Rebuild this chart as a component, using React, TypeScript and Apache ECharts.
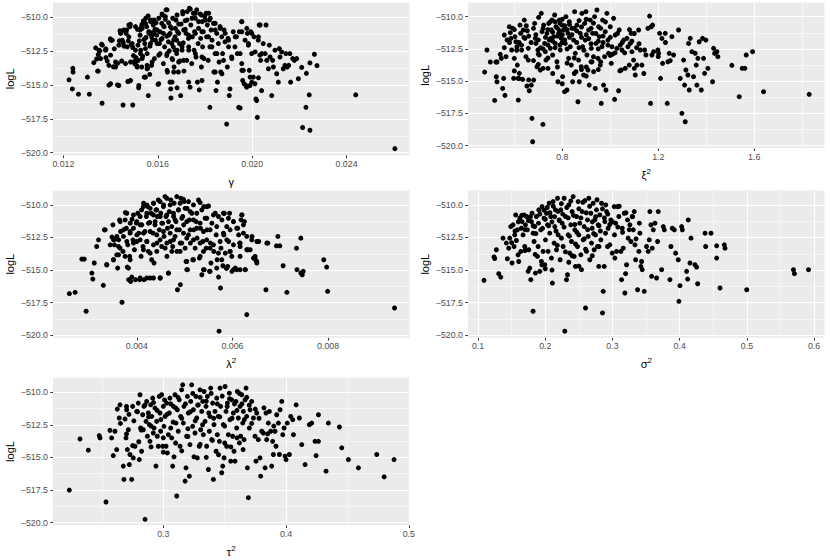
import React, { useEffect, useRef } from "react";
import * as echarts from "echarts";

// ---------- data ----------
const gammaPts: [number, number][] = [
  [0.01224,-514.62],[0.01238,-515.29],[0.0124,-513.77],[0.01241,-514.04],[0.01264,-515.68],
  [0.01302,-514.42],[0.0131,-515.68],[0.01329,-513.35],[0.01337,-512.26],[0.01341,-513.08],[0.01348,-512.75],[0.01345,-513.97],[0.01355,-512.48],[0.01362,-511.99],[0.01364,-516.35],[0.0138,-512.33],[0.0138,-512.98],[0.01386,-513.23],[0.01393,-515.01],[0.01399,-511.59],
  [0.01402,-511.71],[0.01412,-513.65],[0.01416,-512.33],[0.01429,-514.99],[0.0143,-513.4],[0.01437,-511.74],[0.0144,-510.99],[0.01444,-511.12],[0.01447,-513.23],[0.01453,-516.48],[0.01454,-511.89],[0.01457,-512.13],[0.01466,-511.19],[0.01468,-510.94],[0.01473,-514.74],[0.01475,-511.74],[0.0148,-514.71],[0.01482,-510.69],[0.01484,-510.52],[0.01488,-512.01],[0.01494,-516.48],[0.01494,-512.23],[0.01497,-512.83],[0.01501,-513.25],
  [0.01502,-513.42],[0.01508,-512.98],[0.01511,-513.57],[0.01514,-510.89],[0.01516,-512.06],[0.01519,-515.21],[0.01522,-511.74],[0.01525,-511.32],[0.01528,-512.43],[0.01531,-510.69],[0.01533,-510.52],[0.01536,-512.88],[0.01539,-510.27],[0.01542,-511.64],[0.01543,-514.42],[0.01545,-511.94],[0.01549,-510.07],[0.0155,-511.49],[0.01553,-510.69],[0.01555,-512.68],[0.01557,-513.75],[0.0156,-515.78],[0.01566,-514.22],[0.01567,-512.13],[0.0157,-510.32],[0.01574,-511.44],[0.01577,-511.14],[0.01581,-510.57],[0.01584,-510.2],[0.01586,-513.05],[0.01588,-510.89],[0.01593,-510.4],[0.01595,-511.32],[0.01597,-511.94],[0.01525,-510.94],[0.01563,-511.19],[0.01578,-511.69],[0.01532,-513.67],[0.01517,-513.18],[0.01574,-513.55],
  [0.01601,-514.96],[0.01607,-511.94],[0.0161,-512.68],[0.01614,-511.64],[0.01617,-510.45],[0.01619,-509.83],[0.01624,-511.19],[0.01627,-510.69],[0.01629,-512.18],[0.01632,-510.15],[0.01635,-509.45],[0.01638,-511.39],[0.01641,-514.04],[0.01645,-511.81],[0.01646,-510.4],[0.01649,-512.48],[0.01652,-514.79],[0.01655,-515.29],[0.01656,-515.96],[0.01659,-510.82],[0.01663,-513.13],[0.01666,-512.18],[0.01669,-513.67],[0.01673,-511.44],[0.01677,-510.2],[0.0168,-512.68],[0.01684,-511.07],[0.01687,-514.04],[0.01692,-511.94],[0.01694,-513.23],[0.01697,-515.78],[0.01699,-510.5],[0.0161,-511.07],[0.01659,-511.94],[0.01673,-512.43],[0.01638,-512.83],[0.01624,-513.42],[0.0168,-511.69],[0.01652,-511.19],
  [0.01703,-512.43],[0.01706,-509.75],[0.01708,-511.89],[0.01711,-513.97],[0.01716,-510.25],[0.01717,-510.89],[0.0172,-511.19],[0.01723,-513.18],[0.01725,-509.58],[0.0173,-511.56],[0.01731,-512.18],[0.01734,-509.33],[0.01737,-515.16],[0.0174,-510.57],[0.01744,-513.42],[0.01747,-511.44],[0.01751,-509.7],[0.01754,-512.43],[0.01756,-511.07],[0.01759,-510.07],[0.01762,-512.93],[0.01765,-509.45],[0.01768,-514.79],[0.01771,-511.94],[0.01773,-510.82],[0.01776,-515.36],[0.01779,-509.75],[0.01782,-511.56],[0.01785,-513.67],[0.01788,-510.32],[0.0179,-512.18],[0.01793,-511.07],[0.01796,-513.05],[0.01799,-509.95],
  [0.01805,-509.7],[0.01807,-511.44],[0.0181,-510.57],[0.01814,-513.18],[0.01821,-516.65],[0.01819,-510.2],[0.01821,-512.18],[0.01826,-510.94],[0.0183,-511.69],[0.01836,-510.45],[0.01838,-514.04],[0.01843,-512.68],[0.01847,-515.41],[0.0185,-511.19],[0.01853,-514.79],[0.01857,-511.94],[0.0186,-513.3],[0.01864,-510.69],[0.01867,-514.04],[0.01871,-511.44],[0.01875,-512.68],[0.01881,-510.94],[0.01885,-511.81],[0.01892,-517.89],[0.01895,-513.67],[0.01898,-511.56],[0.019,-512.18],
  [0.01903,-515.78],[0.01906,-515.29],[0.01913,-512.93],[0.0192,-511.07],[0.01927,-512.18],[0.01934,-511.44],[0.01937,-512.68],[0.01943,-516.65],[0.01949,-516.7],[0.01946,-511.07],[0.01956,-510.32],[0.01956,-513.42],[0.0196,-514.67],[0.01963,-513.92],[0.01966,-514.91],[0.0197,-511.69],[0.01974,-515.04],[0.01977,-515.16],[0.0198,-511.19],[0.01984,-512.06],[0.01988,-513.92],[0.01991,-515.04],[0.01994,-511.07],[0.01998,-512.68],
  [0.02005,-514.42],[0.02008,-511.44],[0.02012,-514.91],[0.02016,-516.03],[0.02019,-516.15],[0.02022,-517.39],[0.02026,-511.69],[0.0203,-510.57],[0.02033,-512.8],[0.02036,-513.18],[0.0204,-515.41],[0.02047,-511.94],[0.02055,-512.68],[0.02059,-510.57],[0.02062,-513.18],[0.02069,-513.8],[0.02073,-512.06],[0.02076,-512.93],[0.02083,-515.78],[0.02087,-513.18],[0.0209,-513.67],[0.02097,-512.43],
  [0.02104,-514.17],[0.02111,-514.79],[0.02115,-512.31],[0.02118,-512.93],[0.02125,-512.56],[0.02132,-513.8],[0.02139,-513.55],[0.02143,-512.68],[0.02149,-513.67],[0.02155,-513.55],[0.0216,-512.68],[0.02163,-514.79],[0.02172,-513.05],[0.02179,-513.18],[0.02189,-513.05],[0.02196,-514.54],
  [0.0221,-513.7],[0.02214,-518.14],[0.02228,-516.65],[0.0223,-514.14],[0.02242,-515.73],[0.02245,-518.34],[0.02245,-513.37],[0.02264,-512.73],[0.02275,-513.57],[0.02439,-515.73],[0.02605,-519.7],
  [0.016394,-509.45],[0.016183,-509.75],[0.016324,-509.95],[0.015592,-509.9],[0.01569,-510.2],[0.015479,-510.45],[0.015901,-510.4],[0.016042,-510.07],[0.016634,-510.07],[0.016817,-509.83],[0.017056,-509.58],[0.01738,-509.4],[0.017592,-509.7],[0.017845,-509.83],[0.018155,-509.7],[0.018225,-510.07],[0.018437,-510.45],[0.018014,-510.2],[0.017732,-510.32],[0.017451,-510.07],[0.017239,-510.2],[0.016887,-510.5],[0.016746,-510.82],[0.016535,-510.69],[0.016254,-510.65],[0.015972,-510.94],[0.015831,-511.19],[0.01562,-511.07],[0.015338,-510.82],[0.015056,-510.69],[0.014775,-510.57],[0.014563,-510.94],[0.014423,-511.19],[0.014493,-511.69],[0.014775,-511.44],[0.014915,-511.94],[0.014704,-512.18],[0.014352,-512.06],[0.01407,-511.69],[0.013648,-512.06],[0.013507,-512.43],[0.013789,-512.43],[0.014,-512.8],[0.014211,-513.3],[0.01393,-513.55],[0.013577,-513.05],[0.013479,-513.97],
  [0.015056,-512.43],[0.015268,-512.68],[0.015479,-512.31],[0.01569,-511.94],[0.015901,-511.69],[0.016183,-511.56],[0.016465,-511.32],[0.016676,-511.69],[0.016887,-511.19],[0.017099,-510.94],[0.01731,-511.32],[0.017592,-511.19],[0.017873,-511.07],[0.018155,-511.44],[0.018437,-510.94],[0.018648,-510.82],[0.018859,-511.19],[0.019,-511.69],[0.019282,-511.44],[0.019563,-511.07],[0.019775,-510.82],[0.019986,-511.19],[0.020268,-511.44],[0.019563,-510.32],[0.020338,-510.57],
  [0.014845,-513.3],[0.015127,-513.18],[0.015338,-513.05],[0.015549,-513.55],[0.015761,-513.3],[0.016042,-512.8],[0.016394,-512.68],[0.016606,-513.05],[0.016817,-512.43],[0.017028,-512.18],[0.01731,-512.43],[0.017592,-512.68],[0.017873,-512.93],[0.018296,-512.18],[0.018507,-512.68],[0.018789,-513.18],[0.019141,-513.05],[0.019493,-512.68],[0.019845,-511.94],[0.020127,-512.56],[0.020408,-512.68],[0.016887,-513.3],[0.017099,-513.18],[0.016394,-513.92],[0.016676,-514.04],[0.015549,-513.8],[0.015127,-513.67],[0.014634,-513.42],[0.014211,-513.67],
  [0.014,-514.91],[0.014352,-515.04],[0.014845,-514.67],[0.015197,-515.04],[0.015479,-514.42],[0.016042,-514.91],[0.016606,-514.79],[0.016817,-515.21],[0.01731,-514.79],[0.017873,-514.67],[0.018437,-514.04],[0.018718,-514.17],[0.019563,-513.92],[0.019915,-514.42],[0.019986,-514.79],[0.020268,-514.47],
];

const xi2Pts: [number, number][] = [
  [0.4764,-514.29],[0.4861,-512.58],[0.5,-513.51],[0.5181,-516.49],[0.5236,-513.51],[0.5278,-513.51],[0.525,-514.65],[0.5278,-515.04],[0.5417,-512.92],[0.5458,-513.23],[0.5514,-515.56],[0.5556,-514.78],[0.5583,-512.4],[0.5583,-511.42],[0.5611,-516.1],[0.5653,-513.1],
  [0.5792,-510.78],[0.5833,-511.24],[0.5861,-511.68],[0.5889,-512.58],[0.5931,-510.9],[0.5972,-514.78],[0.6,-513.23],[0.6028,-511.55],[0.6069,-511.94],[0.611,-512.33],[0.6125,-513.75],[0.6153,-514.78],[0.6167,-516.46],[0.6208,-514.39],[0.6236,-510.65],[0.6264,-511.29],[0.6306,-512.58],[0.6347,-514.86],[0.6375,-511.03],[0.6417,-510.26],[0.6444,-511.68],[0.6486,-513.1],[0.6528,-515.37],[0.6542,-511.09],[0.6583,-512.45],[0.6583,-513.36],[0.6625,-515.74],[0.6736,-517.88],[0.6764,-519.69],[0.6806,-514.91],[0.6708,-515.3],
  [0.6847,-510.52],[0.6875,-511.68],[0.6903,-512.07],[0.6944,-513.88],[0.6986,-512.58],[0.7014,-510.05],[0.7042,-512.97],[0.7083,-514.13],[0.7125,-509.74],[0.7153,-511.16],[0.7194,-518.35],[0.7222,-510.65],[0.7264,-512.07],[0.7292,-512.71],[0.7319,-513.36],[0.7361,-511.29],[0.7403,-514.0],[0.7431,-510.52],[0.7458,-511.81],[0.75,-512.45],[0.7542,-511.03],[0.7569,-510.26],[0.7597,-512.97],[0.7639,-511.55],[0.7681,-509.87],[0.7708,-512.07],[0.7736,-510.78],[0.7778,-513.49],[0.7819,-515.04],[0.7847,-511.29],[0.7875,-510.26],[0.7917,-512.58],[0.7958,-511.68],[0.7986,-510.65],
  [0.8014,-514.65],[0.8056,-511.03],[0.8097,-515.81],[0.8125,-512.07],[0.8153,-510.0],[0.8194,-515.68],[0.8236,-511.29],[0.8264,-513.23],[0.8292,-510.39],[0.8333,-512.33],[0.8375,-513.75],[0.8403,-510.9],[0.8431,-515.04],[0.8472,-511.81],[0.8514,-509.61],[0.8542,-512.84],[0.8569,-514.26],[0.8611,-510.65],[0.8653,-516.59],[0.8681,-513.36],[0.8708,-515.04],[0.875,-511.29],[0.8792,-513.88],[0.8819,-509.74],[0.8847,-512.33],[0.8889,-514.52],[0.8931,-510.52],[0.8958,-511.81],[0.8986,-509.61],
  [0.9028,-512.97],[0.9069,-514.13],[0.9097,-511.03],[0.9125,-515.3],[0.9167,-510.26],[0.9208,-512.45],[0.9236,-513.49],[0.9264,-511.29],[0.9306,-514.26],[0.9347,-510.0],[0.9375,-515.56],[0.9403,-512.07],[0.9444,-509.48],[0.9486,-513.23],[0.9514,-510.78],[0.9542,-511.55],[0.9583,-513.75],[0.9625,-516.72],[0.9653,-512.33],[0.9681,-510.26],[0.9722,-515.3],[0.9764,-513.1],[0.9792,-511.16],[0.9819,-515.68],[0.9861,-509.74],[0.9903,-511.81],[0.9931,-512.84],
  [1.0,-510.78],[1.0042,-513.62],[1.0069,-512.33],[1.0139,-510.13],[1.0181,-516.41],[1.0208,-511.42],[1.0278,-512.45],[1.0347,-515.74],[1.0375,-511.03],[1.0417,-512.2],[1.0458,-514.13],[1.0486,-512.58],[1.0556,-511.81],[1.0625,-514.0],[1.0694,-511.68],[1.0736,-512.33],[1.0792,-513.75],[1.0833,-512.07],[1.0875,-511.29],[1.0903,-512.71],[1.0972,-513.36],[1.1042,-514.52],[1.1111,-513.75],[1.1181,-511.03],[1.125,-512.58],[1.1319,-513.75],[1.1431,-512.58],[1.1486,-512.97],[1.1569,-510.9],[1.1639,-509.95],[1.1681,-516.72],[1.1708,-510.78],[1.1736,-512.97],[1.1764,-510.65],[1.1806,-512.71],
  [1.1986,-512.58],[1.2014,-512.84],[1.2056,-511.29],[1.2097,-514.78],[1.2153,-511.68],[1.2181,-513.62],[1.2292,-511.29],[1.2375,-516.72],[1.2403,-513.49],[1.2458,-512.84],[1.2569,-511.55],[1.2639,-512.97],[1.2847,-511.03],[1.2917,-514.78],[1.2986,-517.49],[1.3056,-513.36],[1.3097,-515.3],[1.3125,-518.14],[1.3153,-514.13],[1.3236,-514.52],[1.3264,-512.07],[1.3292,-515.68],[1.3333,-511.68],[1.3403,-512.71],[1.3472,-514.65],[1.3542,-512.84],[1.3583,-513.75],[1.3611,-515.3],[1.3653,-513.23],[1.3708,-511.94],[1.3792,-515.68],[1.3847,-511.68],[1.3889,-513.23],[1.3931,-514.39],[1.3986,-511.81],[1.4069,-514.0],
  [1.4264,-515.04],[1.4306,-512.45],[1.4347,-512.84],[1.4444,-512.71],[1.4486,-513.1],[1.5069,-513.77],[1.5375,-516.2],[1.55,-514.0],[1.5611,-514.0],[1.5667,-512.97],[1.5931,-512.71],[1.6389,-515.81],[1.8292,-516.02],
  [0.78,-510.9],[0.79,-511.1],[0.8,-511.4],[0.81,-510.7],[0.82,-511.0],[0.76,-511.2],[0.77,-510.4],[0.83,-511.6],[0.79,-510.5],[0.8,-512.0],[0.74,-511.0],[0.75,-511.7],[0.86,-511.1],[0.88,-510.8],[0.9,-511.4],[0.92,-510.9],[0.87,-512.4],[0.95,-511.9],[0.97,-512.0],[0.93,-513.1],[0.7,-512.9],[0.72,-512.5],[0.66,-511.5],[0.62,-512.0],[0.68,-513.4],[0.9,-513.9],[0.96,-513.5],[1.02,-512.8],[1.08,-511.0],[1.11,-512.4],
  [0.72,-510.9],[0.73,-511.6],[0.74,-512.2],[0.75,-510.4],[0.76,-511.9],[0.77,-512.4],[0.78,-511.5],[0.79,-512.2],[0.8,-510.2],[0.81,-511.8],[0.82,-512.5],[0.83,-510.6],[0.84,-511.4],[0.85,-510.9],[0.86,-512.0],[0.87,-510.3],[0.88,-511.6],[0.89,-512.6],[0.9,-510.2],[0.91,-511.7],[0.92,-512.1],[0.93,-510.5],[0.94,-511.3],[0.95,-512.5],[0.96,-510.9],[0.97,-511.5],[0.98,-510.4],[0.99,-512.2],[1.0,-511.6],[1.01,-512.9],[1.03,-511.3],[1.05,-512.0],[1.06,-512.8],[1.09,-511.9],[1.1,-511.3],[1.12,-512.1],
  [0.6,-511.0],[0.61,-512.6],[0.63,-512.2],[0.64,-511.6],[0.65,-510.7],[0.67,-512.0],[0.69,-511.4],[0.7,-511.8],[0.71,-512.4],[0.68,-510.9],[0.58,-512.0],[0.57,-511.8],[0.6,-514.2],[0.62,-514.8],[0.7,-513.7],[0.72,-514.0],[0.74,-513.2],[0.78,-513.9],[0.82,-513.6],[0.85,-514.4],[0.88,-514.1],[0.9,-514.6],[0.92,-513.5],[0.95,-514.1],[0.85,-513.2],[0.76,-514.4],[1.0,-513.0],[1.04,-514.2],[1.1,-514.0],[1.14,-514.4],[1.2,-513.1],[1.23,-512.0],[1.25,-513.4],[0.66,-514.9],[0.8,-515.2],
];

const lambda2Pts: [number, number][] = [
  [0.00259,-516.81],[0.00271,-516.71],[0.00285,-514.16],[0.0029,-514.16],[0.00294,-518.16],[0.00306,-515.23],[0.00308,-515.69],[0.00311,-514.46],[0.00316,-513.19],[0.0032,-512.68],[0.0033,-516.17],[0.00332,-511.91],[0.00337,-514.59],
  [0.00348,-512.47],[0.0035,-511.53],[0.00351,-514.21],[0.00353,-513.06],[0.00355,-512.63],[0.00358,-513.83],[0.0036,-514.85],[0.00362,-512.68],[0.00364,-511.15],[0.00365,-513.32],[0.00366,-512.04],[0.00369,-517.47],[0.00371,-513.57],[0.00372,-512.42],[0.00376,-510.59],[0.00378,-511.79],[0.0038,-514.77],[0.00381,-513.06],[0.00383,-515.74],[0.00385,-513.95],[0.00386,-512.17],[0.00387,-515.87],[0.0039,-511.1],[0.00392,-512.68],[0.00393,-511.79],[0.00395,-513.44],[0.00397,-515.74],[0.00399,-511.4],
  [0.004,-512.81],[0.00402,-510.64],[0.00404,-512.17],[0.00406,-515.74],[0.00407,-511.53],[0.00409,-513.95],[0.0041,-510.38],[0.00413,-513.19],[0.00414,-509.87],[0.00415,-515.74],[0.00417,-512.04],[0.0042,-510.89],[0.00421,-512.81],[0.00423,-510.13],[0.00424,-513.57],[0.00427,-511.35],[0.00428,-515.61],[0.0043,-510.64],[0.00431,-514.21],[0.00434,-512.17],[0.00435,-509.87],[0.00436,-514.46],[0.00438,-511.53],[0.0044,-510.38],[0.00442,-512.93],[0.00443,-510.89],[0.00445,-509.62],[0.00447,-511.91],[0.00449,-515.61],
  [0.0045,-510.64],[0.00452,-513.19],[0.00454,-511.4],[0.00456,-510.0],[0.00457,-512.42],[0.00459,-509.36],[0.00461,-510.89],[0.00463,-513.95],[0.00464,-511.79],[0.00466,-515.23],[0.00468,-510.51],[0.0047,-512.81],[0.00471,-509.62],[0.00473,-511.66],[0.00475,-513.19],[0.00477,-510.89],[0.00478,-509.87],[0.0048,-512.42],[0.00482,-511.28],[0.00484,-513.57],[0.00485,-516.51],[0.00487,-510.38],[0.00489,-511.91],[0.00491,-516.12],[0.00492,-509.49],[0.00494,-512.93],[0.00496,-510.89],[0.00498,-511.53],[0.00499,-509.74],
  [0.00501,-513.32],[0.00503,-514.34],[0.00505,-510.26],[0.00506,-514.97],[0.00508,-512.3],[0.0051,-511.15],[0.00512,-512.93],[0.00515,-510.64],[0.00517,-514.21],[0.00519,-511.91],[0.00522,-513.32],[0.00524,-511.28],[0.00526,-512.55],[0.00529,-509.62],[0.00531,-514.08],[0.00533,-511.79],[0.00536,-515.36],[0.00538,-512.81],[0.0054,-510.13],[0.00541,-514.97],[0.00543,-511.02],[0.00545,-513.32],[0.00547,-511.91],[0.0055,-510.08],[0.00552,-515.1],[0.00554,-512.93],[0.00555,-514.46],[0.00557,-511.4],
  [0.00561,-513.57],[0.00564,-510.64],[0.00566,-512.3],[0.00568,-514.21],[0.00571,-515.54],[0.00572,-519.69],[0.00575,-516.38],[0.00576,-513.32],[0.00578,-511.15],[0.0058,-514.67],[0.00582,-512.3],[0.00583,-510.64],[0.00585,-513.7],[0.00587,-514.85],[0.00588,-511.66],[0.0059,-514.72],[0.00592,-512.81],[0.00594,-510.64],[0.00595,-513.57],[0.00599,-515.1],
  [0.00602,-511.28],[0.00606,-514.85],[0.00609,-514.97],[0.00611,-511.79],[0.00613,-512.3],[0.00615,-512.93],[0.00616,-513.19],[0.00618,-511.15],[0.0062,-510.77],[0.00623,-512.17],[0.00625,-511.28],[0.00627,-514.97],[0.0063,-518.42],[0.00632,-513.44],[0.00637,-513.44],[0.00641,-512.42],[0.00644,-514.08],[0.00648,-514.21],[0.00651,-514.46],[0.00655,-512.81],
  [0.0067,-516.51],[0.00674,-512.93],[0.00692,-513.14],[0.00695,-512.42],[0.00699,-513.14],[0.00706,-514.67],[0.00714,-516.71],[0.00734,-513.32],[0.00735,-514.97],[0.00743,-515.23],[0.00746,-515.36],[0.00743,-512.55],[0.00748,-515.1],[0.00791,-514.21],[0.00797,-514.77],[0.00799,-516.63],[0.00939,-517.91],
  [0.004836,-509.36],[0.004976,-509.57],[0.004627,-509.49],[0.004488,-509.74],[0.004348,-509.87],[0.004209,-510.0],[0.004139,-510.13],[0.004279,-510.26],[0.004418,-510.38],[0.004557,-510.13],[0.004697,-510.0],[0.004906,-509.87],[0.00508,-509.74],[0.005185,-510.0],[0.005324,-509.82],[0.005463,-510.13],[0.005359,-510.38],[0.005254,-510.64],[0.005115,-510.51],[0.00501,-510.26],[0.004871,-510.38],[0.004767,-510.64],[0.004627,-510.77],[0.004488,-510.89],[0.004348,-510.77],[0.004209,-510.64],[0.00407,-510.89],[0.00393,-510.77],[0.003791,-510.64],[0.003756,-511.15],
  [0.003652,-511.28],[0.003861,-511.4],[0.004,-511.28],[0.004105,-511.53],[0.004244,-511.4],[0.004383,-511.28],[0.004523,-511.4],[0.004662,-511.28],[0.004801,-511.15],[0.004941,-511.02],[0.005045,-511.28],[0.005185,-511.15],[0.005324,-511.4],[0.005463,-511.02],[0.005603,-510.77],[0.005707,-510.89],[0.005812,-510.64],[0.005916,-511.02],[0.006021,-511.28],[0.006195,-510.77],[0.00623,-511.53],[0.00609,-511.79],[0.005951,-511.91],[0.005812,-512.17],[0.005672,-511.66],[0.005533,-511.91],[0.005394,-512.04],[0.005254,-511.79],[0.005115,-511.91],[0.004976,-512.17],[0.004836,-511.91],[0.004697,-512.17],[0.004557,-512.04],[0.004418,-512.3],[0.004279,-512.04],[0.004139,-512.17],[0.004,-512.3],[0.003861,-512.04],[0.003721,-511.91],[0.003582,-512.42],[0.003512,-512.68],[0.003338,-511.91],
  [0.003443,-513.06],[0.003617,-513.19],[0.003791,-512.81],[0.00393,-512.93],[0.00407,-512.68],[0.004209,-512.81],[0.004348,-513.06],[0.004488,-512.68],[0.004627,-512.93],[0.004767,-512.68],[0.004906,-512.93],[0.005045,-512.55],[0.005185,-512.68],[0.005324,-512.93],[0.005463,-512.68],[0.005603,-513.06],[0.005742,-512.81],[0.005882,-512.68],[0.006021,-513.06],[0.00616,-512.93],[0.0063,-512.42],[0.006404,-512.68],[0.006509,-512.81],[0.006718,-512.93],
  [0.003373,-514.59],[0.003512,-514.21],[0.003617,-513.83],[0.003756,-513.95],[0.003861,-514.21],[0.003826,-514.85],[0.004139,-513.44],[0.004279,-513.7],[0.004418,-513.57],[0.004592,-513.32],[0.004732,-513.57],[0.004906,-513.57],[0.005045,-514.34],[0.005185,-514.21],[0.005324,-513.95],[0.005394,-513.57],[0.005533,-513.32],[0.005707,-513.7],[0.005777,-514.21],[0.005951,-513.57],[0.005986,-513.95],[0.00616,-513.95],[0.0063,-513.44],[0.006474,-513.95],[0.006509,-514.34],
  [0.005045,-514.97],[0.005394,-514.97],[0.005533,-515.1],[0.005672,-514.85],[0.005882,-514.85],[0.006021,-514.97],[0.00616,-514.97],[0.006265,-514.97],[0.004662,-515.23],[0.003895,-515.54],[0.00407,-515.61],[0.004209,-515.61],[0.004348,-515.61],[0.004488,-515.61],
];

const sigma2Pts: [number, number][] = [
  [0.1089,-515.79],[0.1238,-514.0],[0.1248,-514.11],[0.1273,-513.44],[0.1308,-515.28],[0.1338,-515.54],[0.1372,-512.55],[0.1422,-512.93],[0.1437,-514.13],[0.1457,-513.32],[0.1472,-512.55],[0.1487,-511.66],[0.1506,-514.46],[0.1521,-511.53],[0.1536,-513.19],[0.1546,-512.3],[0.1561,-510.77],[0.1571,-512.73],[0.1586,-511.91],[0.1596,-513.83],[0.1606,-514.34],[0.1621,-511.02],[0.1636,-513.57],[0.1645,-511.79],[0.1655,-511.28],[0.167,-512.3],[0.1685,-510.77],[0.1695,-513.19],[0.1705,-511.53],[0.172,-510.89],[0.1735,-511.91],[0.1745,-515.1],[0.1755,-513.44],[0.177,-514.85],[0.1785,-515.74],[0.1794,-511.28],[0.1804,-510.64],[0.1819,-518.16],[0.1819,-512.17],[0.1834,-512.81],[0.1844,-511.66],[0.1854,-515.23],[0.1869,-510.89],[0.1884,-513.95],[0.1894,-513.19],[0.1904,-510.38],[0.1919,-515.1],[0.1933,-511.91],[0.1943,-514.34],[0.1953,-510.13],[0.1968,-513.57],[0.1983,-511.02],[0.1993,-514.59],
  [0.2003,-512.68],[0.2018,-510.64],[0.2033,-511.53],[0.2043,-513.57],[0.2058,-509.87],[0.2067,-512.17],[0.2082,-510.89],[0.2092,-514.08],[0.2107,-516.0],[0.2117,-509.74],[0.2132,-512.93],[0.2142,-511.66],[0.2152,-510.38],[0.2167,-513.44],[0.2182,-509.49],[0.2192,-512.3],[0.2207,-511.15],[0.2221,-514.21],[0.2231,-510.38],[0.2241,-512.55],[0.2251,-511.4],[0.2266,-513.19],[0.2281,-509.49],[0.2291,-519.69],[0.2301,-510.89],[0.2316,-515.74],[0.2331,-515.36],[0.2341,-512.3],[0.2351,-510.0],[0.2365,-513.7],[0.238,-511.53],[0.239,-512.81],[0.24,-510.51],[0.2415,-509.36],[0.243,-513.95],[0.244,-511.91],[0.245,-514.72],[0.2465,-510.89],[0.248,-513.19],[0.249,-509.74],[0.2499,-512.3],
  [0.2514,-511.4],[0.2529,-513.83],[0.2539,-514.97],[0.2549,-510.51],[0.2564,-512.68],[0.2579,-511.66],[0.2589,-509.67],[0.2599,-517.91],[0.2614,-513.57],[0.2629,-511.15],[0.2639,-512.42],[0.2648,-509.49],[0.2663,-514.21],[0.2678,-510.64],[0.2688,-512.93],[0.2698,-511.79],[0.2713,-509.87],[0.2728,-513.44],[0.2738,-511.15],[0.2748,-512.3],[0.2763,-510.38],[0.2778,-513.19],[0.2787,-511.53],[0.2797,-514.72],[0.2812,-510.77],[0.2827,-512.68],[0.2837,-509.87],[0.2852,-518.29],[0.2862,-516.63],[0.2877,-514.72],[0.2887,-511.28],[0.2897,-512.17],[0.2912,-510.51],[0.2927,-513.19],[0.2936,-511.79],[0.2961,-513.06],[0.2976,-511.15],[0.2996,-513.7],
  [0.3026,-510.13],[0.3036,-514.08],[0.3046,-511.4],[0.3061,-513.57],[0.3075,-510.13],[0.3095,-510.89],[0.3125,-513.57],[0.3135,-515.74],[0.3145,-511.79],[0.316,-513.32],[0.3175,-510.64],[0.3185,-516.76],[0.3195,-515.28],[0.321,-514.59],[0.3224,-511.15],[0.3234,-512.55],[0.3259,-511.53],[0.3274,-512.81],[0.3294,-510.89],[0.3309,-511.91],[0.3324,-510.51],[0.3334,-513.06],[0.3344,-514.21],[0.3373,-516.51],[0.3393,-513.57],[0.3408,-512.17],[0.3423,-514.72],[0.3433,-514.34],[0.3443,-514.97],[0.3473,-516.63],
  [0.3507,-513.19],[0.3532,-513.57],[0.3547,-512.68],[0.3557,-510.51],[0.3572,-511.53],[0.3582,-515.48],[0.3592,-513.32],[0.3607,-511.91],[0.3632,-511.4],[0.3656,-515.61],[0.3671,-512.81],[0.3681,-510.51],[0.3731,-514.97],[0.3756,-511.66],[0.3771,-511.91],[0.3855,-515.74],[0.387,-513.19],[0.389,-511.79],[0.392,-511.91],[0.3939,-513.7],[0.3979,-514.21],[0.3989,-517.4],
  [0.4004,-516.2],[0.4029,-511.66],[0.4039,-511.91],[0.4103,-515.1],[0.4118,-515.69],[0.4128,-511.15],[0.4153,-514.46],[0.4168,-512.55],[0.4227,-514.59],[0.4252,-514.77],[0.4267,-516.05],[0.4377,-512.17],[0.4386,-513.19],[0.4466,-512.17],[0.455,-513.14],[0.455,-514.08],[0.46,-516.38],[0.4664,-513.06],[0.4674,-513.32],[0.4997,-516.51],[0.5692,-514.97],[0.5707,-515.28],[0.5916,-514.97],
  [0.16,-511.3],[0.165,-510.8],[0.17,-511.9],[0.175,-511.2],[0.178,-510.9],[0.182,-511.6],[0.186,-512.2],[0.19,-511.4],[0.192,-510.7],[0.196,-511.8],[0.198,-510.4],[0.2,-511.1],[0.203,-510.2],[0.205,-511.6],[0.207,-510.6],[0.21,-511.3],[0.212,-510.1],[0.214,-510.9],[0.216,-512.0],[0.219,-510.5],[0.221,-511.2],[0.224,-509.9],[0.226,-510.7],[0.228,-511.7],[0.232,-510.2],[0.234,-511.0],[0.236,-512.4],[0.238,-509.7],[0.242,-510.8],[0.244,-511.5],[0.247,-512.1],[0.25,-510.3],[0.253,-511.0],[0.256,-509.8],[0.258,-512.6],[0.261,-510.6],[0.263,-511.9],[0.266,-510.1],[0.27,-511.3],[0.272,-512.2],[0.275,-510.9],[0.277,-509.6],[0.28,-511.6],[0.282,-512.0],[0.285,-510.3],[0.288,-511.0],[0.29,-510.0],[0.293,-510.7],[0.296,-511.5],[0.3,-511.3],[0.303,-512.3],[0.308,-511.7],[0.31,-510.1],[0.315,-512.1],[0.32,-510.6],[0.325,-511.9],[0.33,-510.9],[0.335,-512.6],[0.34,-511.4],
  [0.218,-513.1],[0.23,-513.6],[0.245,-513.0],[0.26,-513.4],[0.185,-513.8],[0.195,-514.6],[0.2,-514.9],[0.17,-513.5],[0.155,-512.0],[0.15,-512.9],[0.27,-513.9],[0.28,-513.2],[0.235,-514.4],[0.21,-515.0],[0.25,-514.7],[0.24,-513.9],
];

const tau2Pts: [number, number][] = [
  [0.2234,-517.51],[0.2321,-513.59],[0.2389,-514.45],[0.2478,-513.33],[0.2484,-513.51],[0.2533,-518.42],[0.2565,-512.93],[0.2579,-513.51],[0.2592,-514.86],[0.2606,-513.0],[0.262,-514.4],[0.2625,-511.3],[0.2641,-511.98],[0.2647,-510.97],[0.2674,-515.67],[0.2679,-516.69],[0.2688,-512.06],[0.2696,-513.51],[0.2701,-511.35],[0.2707,-514.4],[0.2715,-512.88],[0.2723,-515.55],[0.2728,-514.78],[0.2742,-516.69],[0.275,-511.09],[0.2755,-515.04],[0.2769,-514.15],[0.2783,-511.48],[0.2796,-510.84],[0.2804,-515.17],[0.281,-510.2],[0.2815,-512.75],[0.2823,-514.53],[0.2832,-511.73],[0.2837,-512.88],[0.2842,-511.09],[0.2851,-519.75],[0.2859,-512.24],[0.2864,-510.71],[0.287,-513.38],[0.2878,-511.6],[0.2886,-512.49],[0.2891,-513.77],[0.2897,-510.97],[0.2905,-511.86],[0.2913,-510.46],[0.2918,-513.13],[0.2924,-512.75],[0.2932,-511.22],[0.294,-515.67],[0.2946,-512.24],[0.2951,-513.38],[0.2959,-514.15],[0.2967,-510.33],[0.2973,-511.6],[0.2978,-513.0],[0.2986,-510.2],[0.2995,-514.15],
  [0.3,-511.09],[0.3005,-512.62],[0.3014,-511.86],[0.3022,-514.15],[0.3027,-510.84],[0.3033,-514.66],[0.3041,-513.26],[0.3049,-511.6],[0.3054,-510.46],[0.306,-512.75],[0.3068,-513.51],[0.3076,-515.67],[0.3082,-511.09],[0.3087,-514.96],[0.3095,-510.2],[0.3103,-512.37],[0.3109,-517.96],[0.3114,-511.35],[0.3122,-513.0],[0.313,-510.59],[0.3136,-514.15],[0.3141,-511.86],[0.3149,-509.82],[0.3158,-509.44],[0.3163,-512.37],[0.3168,-511.09],[0.3177,-516.82],[0.3185,-515.8],[0.319,-513.38],[0.3196,-510.33],[0.3204,-511.6],[0.3212,-516.44],[0.3217,-514.02],[0.3223,-510.71],[0.3231,-509.44],[0.3239,-512.62],[0.3245,-511.35],[0.325,-514.96],[0.3258,-513.13],[0.3266,-510.33],[0.3272,-511.98],[0.3277,-515.04],[0.3285,-510.97],[0.3293,-514.15],[0.3299,-509.82],
  [0.3304,-512.88],[0.3313,-511.48],[0.3321,-510.71],[0.3326,-513.26],[0.3332,-509.95],[0.334,-512.24],[0.3348,-511.09],[0.3353,-514.15],[0.3359,-510.33],[0.3367,-515.93],[0.3375,-513.0],[0.338,-511.86],[0.3386,-509.69],[0.3394,-513.64],[0.3402,-510.84],[0.3408,-516.69],[0.3413,-512.49],[0.3421,-511.48],[0.343,-514.53],[0.3435,-510.46],[0.344,-513.26],[0.3448,-511.86],[0.3457,-513.77],[0.3462,-509.69],[0.3467,-511.09],[0.3476,-516.18],[0.3484,-515.67],[0.3489,-512.49],[0.3495,-515.04],
  [0.3503,-509.57],[0.3511,-511.48],[0.3516,-514.15],[0.3522,-510.84],[0.353,-513.26],[0.3538,-510.08],[0.3543,-512.11],[0.3549,-515.29],[0.3557,-510.59],[0.3565,-513.38],[0.3571,-511.6],[0.3576,-514.53],[0.3584,-515.29],[0.3592,-510.71],[0.3598,-512.75],[0.3603,-509.95],[0.3611,-511.98],[0.362,-513.89],[0.3625,-511.09],[0.363,-513.38],[0.3639,-510.2],[0.3647,-512.37],[0.3652,-511.48],[0.3658,-513.64],[0.3666,-510.59],[0.3674,-509.69],[0.3679,-511.86],[0.3685,-515.8],[0.3693,-518.09],[0.3701,-512.75],[0.3707,-511.35],[0.372,-510.71],[0.3734,-511.98],[0.3747,-513.38],[0.3755,-515.29],[0.3761,-511.6],[0.3774,-513.64],[0.3788,-515.04],[0.3793,-516.44],
  [0.3802,-513.0],[0.3815,-513.13],[0.3829,-515.8],[0.3837,-511.6],[0.3842,-513.64],[0.3856,-512.37],[0.3864,-511.48],[0.3875,-513.0],[0.3883,-515.67],[0.3891,-513.77],[0.3897,-514.78],[0.391,-513.0],[0.3918,-514.15],[0.3924,-511.73],[0.3938,-512.37],[0.3946,-514.78],[0.3951,-511.35],[0.3965,-510.71],[0.3973,-513.26],[0.3984,-512.75],[0.3992,-514.91],
  [0.4,-515.17],[0.401,-512.37],[0.4027,-514.78],[0.4038,-511.86],[0.4054,-512.11],[0.406,-513.26],[0.4082,-510.97],[0.4109,-511.98],[0.4128,-514.02],[0.4155,-515.55],[0.419,-512.49],[0.4209,-512.37],[0.4236,-513.77],[0.4245,-514.86],[0.4264,-513.77],[0.4264,-511.73],[0.4326,-516.06],[0.4345,-512.37],[0.4435,-512.67],[0.4454,-514.27],[0.4508,-515.17],[0.459,-515.8],[0.4739,-514.78],[0.4799,-516.49],[0.488,-515.17],
  [0.27,-511.1],[0.272,-511.7],[0.276,-512.2],[0.279,-511.5],[0.282,-512.9],[0.285,-511.0],[0.288,-511.9],[0.29,-512.6],[0.292,-510.8],[0.295,-511.4],[0.298,-512.1],[0.301,-510.6],[0.303,-511.7],[0.306,-510.9],[0.308,-512.3],[0.31,-511.2],[0.312,-510.4],[0.315,-512.0],[0.318,-510.9],[0.32,-512.8],[0.322,-511.5],[0.324,-510.1],[0.326,-512.2],[0.328,-511.0],[0.33,-510.4],[0.332,-512.5],[0.335,-510.7],[0.337,-511.6],[0.339,-510.1],[0.341,-512.0],[0.344,-510.9],[0.346,-511.9],[0.348,-510.3],[0.35,-512.6],[0.352,-511.1],[0.354,-510.5],[0.356,-512.0],[0.358,-510.9],[0.36,-511.4],[0.362,-510.1],[0.364,-510.9],[0.366,-512.1],[0.368,-510.4],[0.37,-511.0],[0.372,-512.4],[0.375,-511.3],[0.378,-512.0],[0.382,-511.2],[0.385,-513.2],[0.39,-512.6],
  [0.3,-513.5],[0.31,-513.9],[0.32,-513.4],[0.33,-514.0],[0.34,-513.7],[0.35,-513.9],[0.36,-513.5],[0.29,-514.2],[0.28,-513.8],[0.3,-514.6],[0.345,-514.8],[0.365,-514.4],[0.27,-513.2],[0.265,-512.4],[0.275,-514.1],[0.315,-514.5],[0.335,-515.0],[0.355,-514.2],
];

// ---------- axes ----------
const logLRange = [-520.2, -508.9];
const logLMajor = [-520, -517.5, -515, -512.5, -510];
const logLMinor = [-518.75, -516.25, -513.75, -511.25];

const gammaRange = [0.01156, 0.02667];
const gammaMajor = [0.012, 0.016, 0.02, 0.024];
const gammaMinor = [0.014, 0.018, 0.022, 0.026];

const xi2Range = [0.407, 1.893];
const xi2Major = [0.8, 1.2, 1.6];
const xi2Minor = [0.6, 1.0, 1.4, 1.8];

const lambda2Range = [0.002247, 0.009703];
const lambda2Major = [0.004, 0.006, 0.008];
const lambda2Minor = [0.003, 0.005, 0.007, 0.009];

const sigma2Range = [0.0851, 0.6154];
const sigma2Major = [0.1, 0.2, 0.3, 0.4, 0.5, 0.6];
const sigma2Minor = [0.15, 0.25, 0.35, 0.45, 0.55];

const tau2Range = [0.2101, 0.5006];
const tau2Major = [0.3, 0.4, 0.5];
const tau2Minor = [0.25, 0.35, 0.45];

// x titles: base symbol + superscript
const xTitleBase = ["\u03b3", "\u03be", "\u03bb", "\u03c3", "\u03c4"];
const xTitleSup = ["", "2", "2", "2", "2"];
const yTitle = "logL";

const FONT = "'Liberation Sans', Arial, Helvetica, sans-serif";

type Panel = {
  pts: [number, number][];
  range: number[];
  major: number[];
  minor: number[];
  decimals: number;
  base: string;
  sup: string;
  box: { left: number; top: number; width: number; height: number };
};

const panels: Panel[] = [
  { pts: gammaPts, range: gammaRange, major: gammaMajor, minor: gammaMinor, decimals: 3, base: xTitleBase[0], sup: xTitleSup[0], box: { left: 53, top: 2.4, width: 356.5, height: 153 } },
  { pts: xi2Pts, range: xi2Range, major: xi2Major, minor: xi2Minor, decimals: 1, base: xTitleBase[1], sup: xTitleSup[1], box: { left: 468, top: 2.5, width: 356.5, height: 145.8 } },
  { pts: lambda2Pts, range: lambda2Range, major: lambda2Major, minor: lambda2Minor, decimals: 3, base: xTitleBase[2], sup: xTitleSup[2], box: { left: 53, top: 190.6, width: 356.5, height: 147.2 } },
  { pts: sigma2Pts, range: sigma2Range, major: sigma2Major, minor: sigma2Minor, decimals: 1, base: xTitleBase[3], sup: xTitleSup[3], box: { left: 468, top: 190.6, width: 356.5, height: 147.2 } },
  { pts: tau2Pts, range: tau2Range, major: tau2Major, minor: tau2Minor, decimals: 1, base: xTitleBase[4], sup: xTitleSup[4], box: { left: 53, top: 377.8, width: 356.5, height: 147.4 } },
];

const fmtY = (v: number) => (v < 0 ? "\u2212" : "") + Math.abs(v).toFixed(1);

export default function App() {
  const ref = useRef<HTMLDivElement>(null);
  useEffect(() => {
    if (!ref.current) return;
    const chart = echarts.init(ref.current, undefined, { renderer: "svg" });
    const grid = panels.map((p) => ({
      left: p.box.left, top: p.box.top, width: p.box.width, height: p.box.height,
      show: true, backgroundColor: "#EBEBEB", borderWidth: 0, containLabel: false,
    }));
    const tickStyle = { color: "#333333", width: 1 };
    const xAxis = panels.map((p, i) => ({
      type: "value", gridIndex: i, min: p.range[0], max: p.range[1],
      axisLine: { show: false }, splitLine: { show: false },
      axisTick: { show: true, customValues: p.major, length: 2.75, lineStyle: tickStyle },
      axisLabel: {
        customValues: p.major, color: "#4D4D4D", fontSize: 8.8, fontFamily: FONT, margin: 4,
        formatter: (v: number) => v.toFixed(p.decimals),
      },
      name: p.sup ? `{m|${p.base}}{s|${p.sup}}` : `{m|${p.base}}`,
      nameLocation: "middle", nameGap: 19,
      nameTextStyle: {
        color: "#000", fontSize: 11, fontFamily: FONT, lineHeight: 13,
        rich: {
          m: { fontSize: 11, fontFamily: FONT, color: "#000", lineHeight: 13, verticalAlign: "bottom" },
          s: { fontSize: 8, fontFamily: FONT, color: "#000", lineHeight: 4, verticalAlign: "top" },
        },
      },
    }));
    const yAxis = panels.map((p, i) => ({
      type: "value", gridIndex: i, min: logLRange[0], max: logLRange[1],
      axisLine: { show: false }, splitLine: { show: false },
      axisTick: { show: true, customValues: logLMajor, length: 2.75, lineStyle: tickStyle },
      axisLabel: {
        customValues: logLMajor, color: "#4D4D4D", fontSize: 8.8, fontFamily: FONT, margin: 5,
        formatter: fmtY,
      },
      name: yTitle, nameLocation: "middle", nameGap: 36, nameRotate: 90,
      nameTextStyle: { color: "#000", fontSize: 11, fontFamily: FONT, lineHeight: 13 },
    }));
    const series: any[] = [];
    panels.forEach((p, i) => {
      const major = { color: "#FFFFFF", width: 1.07, type: "solid" };
      const minor = { color: "#FFFFFF", width: 0.53, type: "solid" };
      series.push({
        type: "scatter", xAxisIndex: i, yAxisIndex: i, data: [], silent: true, z: 1,
        markLine: {
          silent: true, symbol: "none", z: 1, animation: false,
          label: { show: false }, emphasis: { disabled: true },
          data: [
            ...p.minor.map((v) => ({ xAxis: v, lineStyle: minor })),
            ...logLMinor.map((v) => ({ yAxis: v, lineStyle: minor })),
            ...p.major.map((v) => ({ xAxis: v, lineStyle: major })),
            ...logLMajor.map((v) => ({ yAxis: v, lineStyle: major })),
          ],
        },
      });
      series.push({
        type: "scatter", xAxisIndex: i, yAxisIndex: i, data: p.pts, silent: true, z: 3,
        symbol: "circle", symbolSize: 5, itemStyle: { color: "#000000", opacity: 1 },
      });
    });
    chart.setOption({
      animation: false,
      backgroundColor: "#FFFFFF",
      textStyle: { fontFamily: FONT },
      grid, xAxis, yAxis, series,
    });
    return () => chart.dispose();
  }, []);
  return (
    <div
      ref={ref}
      style={{ position: "absolute", left: 0, top: 0, width: 830, height: 560 }}
    />
  );
}
